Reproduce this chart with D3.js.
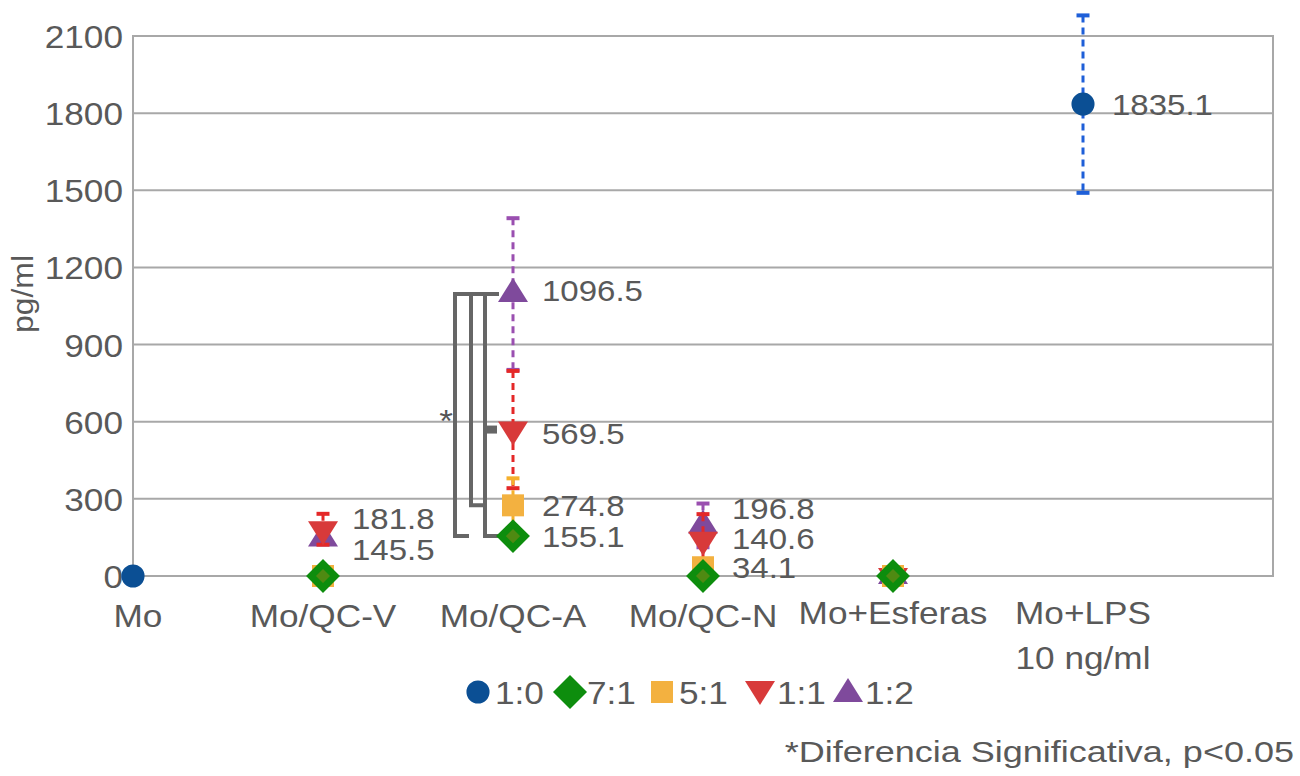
<!DOCTYPE html>
<html>
<head>
<meta charset="utf-8">
<script src="https://cdn.jsdelivr.net/npm/d3@7"></script>
<style>
  html, body { margin: 0; padding: 0; background: #fff; }
  svg { display: block; font-family: "Liberation Sans", Arial, sans-serif; }
</style>
</head>
<body>
<svg id="chart" width="1300" height="776"></svg>
<script>
// Groups on the x axis
const categories = ["Mo", "Mo/QC-V", "Mo/QC-A", "Mo/QC-N", "Mo+Esferas", "Mo+LPS"];

// Ratio series (null = not measured in that group)
const seriesNames = ["1:0", "7:1", "5:1", "1:1", "1:2"];
const values_1_0 = [0, null, null, null, null, 1835.1];
const values_7_1 = [null, 0, 155.1, 0, 0, null];
const values_5_1 = [null, 0, 274.8, 34.1, 0, null];
const values_1_1 = [null, 181.8, 569.5, 140.6, 0, null];
const values_1_2 = [null, 145.5, 1096.5, 196.8, 0, null];

// Standard deviations (error bars)
const err_1_0 = [0, null, null, null, null, 345];
const err_7_1 = [null, 0, 30, 0, 5, null];
const err_5_1 = [null, 10, 105, 10, 10, null];
const err_1_1 = [null, 60, 228, 100, 10, null];
const err_1_2 = [null, 20, 295, 85, 10, null];

// Values written next to the points
const labelled = [
  { s: "1:0", c: 5, v: 1835.1 },
  { s: "1:2", c: 2, v: 1096.5 },
  { s: "1:1", c: 2, v: 569.5 },
  { s: "5:1", c: 2, v: 274.8 },
  { s: "7:1", c: 2, v: 155.1 },
  { s: "1:1", c: 1, v: 181.8 },
  { s: "1:2", c: 1, v: 145.5 },
  { s: "1:2", c: 3, v: 196.8 },
  { s: "1:1", c: 3, v: 140.6 },
  { s: "5:1", c: 3, v: 34.1 }
];

const yTicks = [0, 300, 600, 900, 1200, 1500, 1800, 2100];

// Significance brackets within Mo/QC-A (pairs of values compared)
const brackets = [
  { from: 1096.5, to: 155.1 },
  { from: 1096.5, to: 274.8 },
  { from: 1096.5, to: 155.1, mid: 569.5 }
];

const footnote = "*Diferencia Significativa, p<0.05";

// ---- styling ----
const textColor = "#595959";
const style = {
  "1:0": { fill: "#0b4f94", err: "#1e5fd8" },
  "7:1": { fill: "#0d8d0d", err: "#0b7a0b" },
  "5:1": { fill: "#f3b140", err: "#f5b02c" },
  "1:1": { fill: "#d83a3a", err: "#e42828" },
  "1:2": { fill: "#7f4a9c", err: "#9a4fb0" }
};
const valueSets = { "1:0": values_1_0, "7:1": values_7_1, "5:1": values_5_1, "1:1": values_1_1, "1:2": values_1_2 };
const errSets = { "1:0": err_1_0, "7:1": err_7_1, "5:1": err_5_1, "1:1": err_1_1, "1:2": err_1_2 };

const svg = d3.select("#chart");
const x = d3.scaleLinear().domain([0, categories.length]).range([133, 1273]);
const y = d3.scaleLinear().domain([0, 2100]).range([576, 36]);

// grid lines
svg.append("g").selectAll("line").data(yTicks).join("line")
  .attr("x1", x(0)).attr("x2", x(categories.length))
  .attr("y1", d => y(d)).attr("y2", d => y(d))
  .attr("stroke", "#a8a8a8").attr("stroke-width", 2);

// plot frame
svg.append("rect")
  .attr("x", x(0)).attr("y", y(2100))
  .attr("width", x(categories.length) - x(0)).attr("height", y(0) - y(2100))
  .attr("fill", "none").attr("stroke", "#a8a8a8").attr("stroke-width", 2);

// y axis
const yAxis = d3.axisLeft(y).tickValues(yTicks).tickFormat(d3.format("d")).tickSize(0).tickPadding(10);
const ya = svg.append("g").attr("transform", `translate(${x(0)},0)`).call(yAxis);
ya.select(".domain").remove();
ya.attr("font-family", null).attr("font-size", null);
ya.selectAll("text").attr("font-size", 32).attr("fill", textColor).attr("dy", "0.36em");

svg.append("text")
  .attr("transform", "translate(33,294) rotate(-90)")
  .attr("text-anchor", "middle")
  .attr("font-size", 29).attr("fill", textColor)
  .text("pg/ml");

// category labels
const catG = svg.append("g");
categories.forEach((c, i) => {
  catG.append("text")
    .attr("x", x(i) + (i === 0 ? 5 : 0)).attr("y", i >= 4 ? 624 : 627)
    .attr("text-anchor", "middle").attr("font-size", 32).attr("fill", textColor)
    .text(c);
  if (c === "Mo+LPS") {
    catG.append("text").attr("x", x(i)).attr("y", 669)
      .attr("text-anchor", "middle").attr("font-size", 32).attr("fill", textColor)
      .text("10 ng/ml");
  }
});

// significance brackets
const bx = x(2);
const bg = svg.append("g").attr("stroke", "#666").attr("stroke-width", 4).attr("fill", "none");
const bxOffsets = [-58, -42, -28];
brackets.forEach((b, k) => {
  const xl = bx + bxOffsets[k];
  const xr = xl + 14;
  bg.append("path").attr("d",
    `M${xr},${y(b.from)}H${xl}V${y(b.to)}H${xr}`);
  if (b.mid !== undefined) {
    bg.append("path").attr("d", `M${xl},${y(b.mid)}H${xr - 2}`).attr("stroke-width", 8);
  }
});
svg.append("text").attr("x", bx - 67).attr("y", 432)
  .attr("text-anchor", "middle").attr("font-size", 32).attr("fill", "#555").text("*");

// marker shapes, centred on the data point
function markerPath(name, big) {
  switch (name) {
    case "1:0": return d3.symbol().type(d3.symbolCircle).size(420)();
    case "7:1": return big ? "M0,-17L17,0L0,17L-17,0Z" : "M0,-15L15,0L0,15L-15,0Z";
    case "5:1": return "M-11,-11H11V11H-11Z";
    case "1:1": return "M-15,-8L15,-8L0,16Z";
    case "1:2": return "M0,-16L15,8L-15,8Z";
  }
}

// draw series back to front so 1:0 and 7:1 end up on top
const order = seriesNames.slice().reverse();
const pts = svg.append("g");
order.forEach(name => {
  const vals = valueSets[name], errs = errSets[name], s = style[name];
  const g = pts.append("g");
  vals.forEach((v, i) => {
    if (v === null) return;
    const e = errs[i] || 0;
    const cx = x(i);
    if (e > 0) {
      g.append("line").attr("x1", cx).attr("x2", cx)
        .attr("y1", y(v + e)).attr("y2", y(Math.max(v - e, 0)))
        .attr("stroke", s.err).attr("stroke-width", 3).attr("stroke-dasharray", "7,5");
      [v + e, v - e].forEach(ev => {
        if (ev < 0) return;
        g.append("line").attr("x1", cx - 6.5).attr("x2", cx + 6.5)
          .attr("y1", y(ev)).attr("y2", y(ev))
          .attr("stroke", s.err).attr("stroke-width", 4);
      });
    }
    const m = g.append("path").attr("d", markerPath(name))
      .attr("transform", `translate(${cx},${y(v)})`)
      .attr("fill", s.fill);
    if (name === "7:1") {
      m.attr("fill", "#4f8a12").attr("stroke", s.fill).attr("stroke-width", 7)
        .attr("stroke-linejoin", "miter").attr("d", "M0,-12L12,0L0,12L-12,0Z");
    }
  });
});

// value labels
const nudge = { "1:1|1": -11, "1:2|1": 10, "1:2|3": -17, "1:1|3": -2, "5:1|3": 0, "1:2|2": -4, "1:1|2": 3 };
svg.append("g").selectAll("text").data(labelled).join("text")
  .attr("x", d => x(d.c) + 29)
  .attr("y", d => y(d.v) + 11 + (nudge[d.s + "|" + d.c] || 0))
  .attr("font-size", 30).attr("fill", textColor)
  .text(d => d.v.toFixed(1));

// legend
const lg = svg.append("g").attr("transform", "translate(0,692)");
const legendX = [478, 570, 662, 760, 848];
seriesNames.forEach((name, k) => {
  lg.append("path").attr("d", markerPath(name, true))
    .attr("transform", `translate(${legendX[k]},${name === "1:1" ? -3 : name === "1:2" ? 2 : 0})`)
    .attr("fill", style[name].fill);
  lg.append("text").attr("x", legendX[k] + 17).attr("y", 12)
    .attr("font-size", 32).attr("fill", textColor).text(name);
});

// footnote
svg.append("text").attr("x", 1294).attr("y", 762).attr("text-anchor", "end")
  .attr("font-size", 30).attr("fill", textColor).attr("class", "note").text(footnote);

// the lettering is set slightly wide
svg.selectAll("text").each(function () {
  const len = this.getComputedTextLength();
  const k = this.classList.contains("note") ? 1.2 : 1.1;
  d3.select(this).attr("textLength", len * k).attr("lengthAdjust", "spacingAndGlyphs");
});
</script>
</body>
</html>
